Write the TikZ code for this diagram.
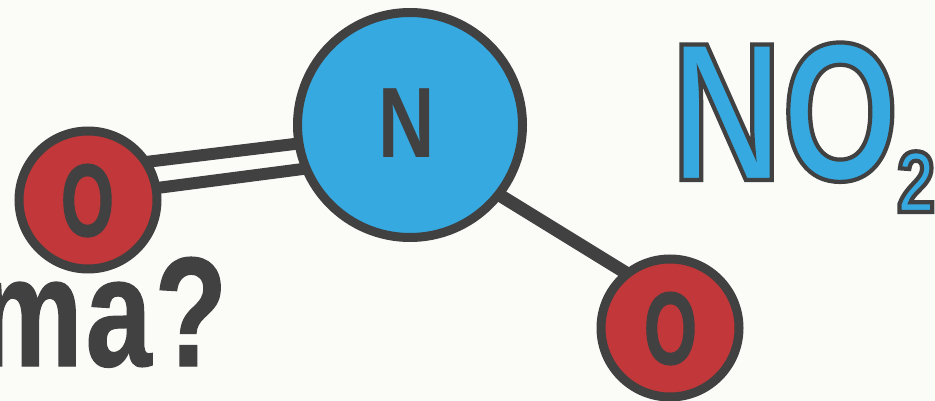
\documentclass[tikz,border=0pt]{standalone}
\usepackage{fontspec}
\usetikzlibrary{backgrounds}
\setmainfont{Liberation Sans}
\newfontfamily\labelfont[FakeStretch=0.78]{Liberation Sans Bold}
\newfontfamily\ofont[FakeStretch=0.66,FakeBold=1.2]{Liberation Sans Bold}
\newfontfamily\mafont[FakeStretch=0.76,LetterSpace=2,FakeBold=0.8]{Liberation Sans Bold}
\newfontfamily\nofont[FakeStretch=0.78,LetterSpace=2]{Liberation Sans Bold}
\newfontfamily\nooh[FakeStretch=0.76]{Liberation Sans Bold}
\definecolor{paper}{HTML}{FBFBF8}
\definecolor{ink}{HTML}{414141}
\definecolor{nblue}{HTML}{36A9E1}
\definecolor{ored}{HTML}{C1373A}
\newcommand{\outlined}[1]{\special{pdf:code q 4.2 w 2 Tr 0.255 0.255 0.255 RG 0.212 0.663 0.882 rg}#1\special{pdf:code Q}}
\tikzset{
  atomn/.style={circle,draw=ink,line width=9pt,fill=nblue,minimum size=225pt,inner sep=0pt},
  atomo/.style={circle,draw=ink,line width=9pt,fill=ored,minimum size=138pt,inner sep=0pt},
  bond/.style={draw=ink,line width=12pt},
  atomlabel/.style={text=ink,inner sep=0pt,anchor=base,font=\labelfont\fontsize{100}{100}\selectfont},
  olabel/.style={atomlabel,font=\ofont\fontsize{103}{103}\selectfont},
  bigtext/.style={inner sep=0pt,anchor=base west}
}
\begin{document}
\begin{tikzpicture}[x=1pt,y=-1pt]
\useasboundingbox (0,0) rectangle (935,401);
\node[atomn] (n) at (410,125) {};
\node[atomo] (ol) at (88,200) {};
\node[atomo] (or) at (670,328) {};
\begin{pgfonlayer}{background}
\fill[paper] (0,0) rectangle (935,401);
\draw[bond] ([yshift=31pt]ol.center) -- ([yshift=-5pt]n.center);
\draw[bond] ([yshift=3pt]ol.center) -- ([yshift=-30pt]n.center);
\draw[bond,line width=13pt] ([yshift=-15pt]n.center) -- ([yshift=28pt]or.center);
\end{pgfonlayer}
\node[atomlabel] (ln) at (406.5,158) {N};
\node[olabel] (lol) at (87.5,236) {O};
\node[olabel] (lor) at (670.5,364) {O};
\node[bigtext,text=ink,font=\mafont\fontsize{156}{156}\selectfont] (ma) at (-23,366) {ma?};
\node[bigtext,font=\nofont\fontsize{197}{197}\selectfont] (no) at (671,180) {\outlined{N\nooh O}};
\node[bigtext,font=\nofont\fontsize{87}{87}\selectfont] (two) at (897,212) {\outlined{2}};
\end{tikzpicture}
\end{document}
